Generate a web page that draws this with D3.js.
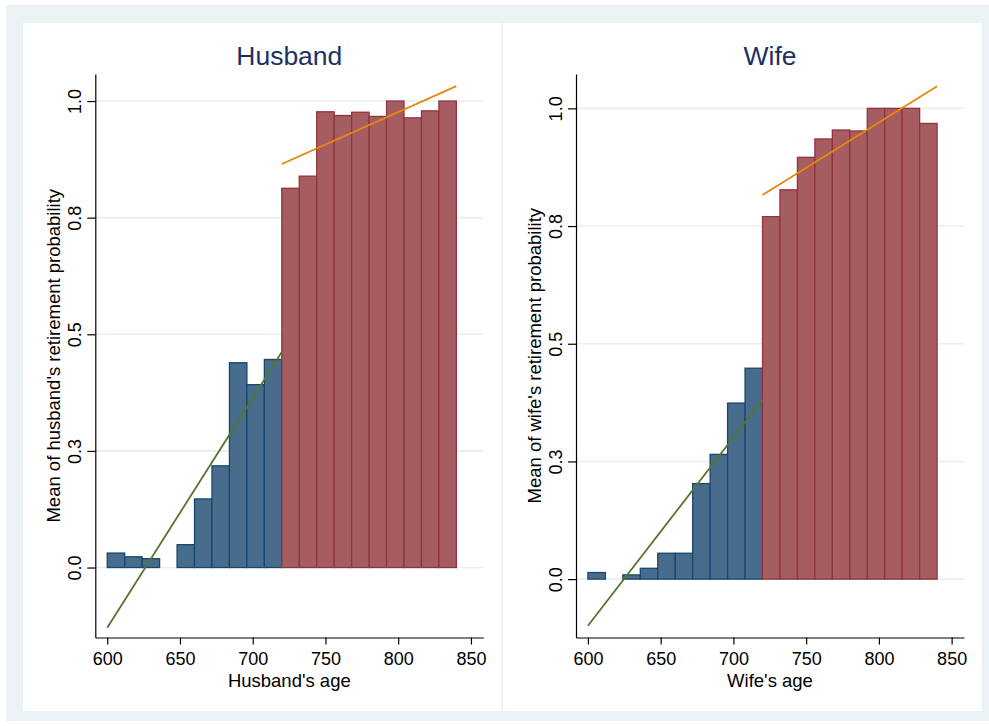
<!DOCTYPE html>
<html lang="en">
<head>
<meta charset="UTF-8"/>
<title>Retirement probability by age</title>
<script src="https://cdn.jsdelivr.net/npm/d3@7"></script>
<style>
body { margin: 0; background: #fff; }
svg { display: block; font-family: "Liberation Sans", Arial, sans-serif; }
text.title { font-size: 26.5px; fill: #1c3163; }
.tick text { font-size: 18px; fill: #000; }
text.axis-title { font-size: 18.5px; fill: #000; }
.grid line { stroke: #e6eef1; stroke-width: 1.6; }
.axis path, .axis line { stroke: #000; stroke-width: 1.2; }
</style>
</head>
<body>
<svg width="989" height="726"></svg>
<script>
// lower edge of each 12-unit age bin
const binStart = [600, 612, 624, 636, 648, 660, 672, 684, 696, 708,
                  720, 732, 744, 756, 768, 780, 792, 804, 816, 828];
const binWidth = 12;
const cutoff = 720;

const husbandMean = [0.031, 0.023, 0.019, null, 0.049, 0.147, 0.218, 0.439, 0.392, 0.446,
                     0.813, 0.839, 0.977, 0.969, 0.976, 0.967, 1.0, 0.964, 0.979, 1.0];
const wifeMean = [0.014, null, 0.009, 0.023, 0.055, 0.055, 0.203, 0.265, 0.374, 0.448,
                  0.770, 0.827, 0.896, 0.935, 0.954, 0.952, 1.0, 1.0, 1.0, 0.968];

// linear fits either side of the cutoff: [age, fitted]
const husbandFitBelow = [[600, -0.129], [720, 0.462]];
const husbandFitAbove = [[720, 0.865], [840, 1.032]];
const wifeFitBelow = [[600, -0.099], [720, 0.381]];
const wifeFitAbove = [[720, 0.816], [840, 1.047]];

const xTicks = [600, 650, 700, 750, 800, 850];
const yTicks = [0, 0.25, 0.5, 0.75, 1];

const svg = d3.select('svg');

// outer background and panel backgrounds
svg.append('rect').attr('x', 6).attr('y', 5).attr('width', 983).attr('height', 716).attr('fill', '#eaf2f3');

const panels = [
  { title: 'Husband', xTitle: "Husband's age", yTitle: "Mean of husband's retirement probability",
    values: husbandMean, below: husbandFitBelow, above: husbandFitAbove,
    bgX: 23, bgW: 478, left: 95.3, right: 483.3, yDomain: [-0.150, 1.058] },
  { title: 'Wife', xTitle: "Wife's age", yTitle: "Mean of wife's retirement probability",
    values: wifeMean, below: wifeFitBelow, above: wifeFitAbove,
    bgX: 503, bgW: 478.7, left: 576, right: 964, yDomain: [-0.124, 1.073] }
];

const plotTop = 74, plotBottom = 637.5;

panels.forEach(p => {
  svg.append('rect').attr('x', p.bgX).attr('y', 23).attr('width', p.bgW).attr('height', 688).attr('fill', '#fff');

  const x = d3.scaleLinear().domain([591.8, 858.5]).range([p.left, p.right]);
  const y = d3.scaleLinear().domain(p.yDomain).range([plotBottom, plotTop]);
  const g = svg.append('g');

  // horizontal grid
  g.append('g').attr('class', 'grid')
    .selectAll('line').data(yTicks).join('line')
    .attr('x1', p.left).attr('x2', p.right)
    .attr('y1', d => y(d)).attr('y2', d => y(d));

  const bars = binStart.map((s, i) => ({ start: s, value: p.values[i] })).filter(d => d.value !== null);

  g.append('g').selectAll('rect').data(bars).join('rect')
    .attr('x', d => x(d.start))
    .attr('width', d => x(d.start + binWidth) - x(d.start))
    .attr('y', d => y(d.value))
    .attr('height', d => y(0) - y(d.value))
    .attr('fill', d => d.start < cutoff ? '#486c8c' : '#a65d62')
    .attr('stroke', d => d.start < cutoff ? '#1a476f' : '#90353b')
    .attr('stroke-width', 1.3);

  const line = d3.line().x(d => x(d[0])).y(d => y(d[1]));
  g.append('path').attr('d', line(p.below)).attr('fill', 'none').attr('stroke', '#55752f').attr('stroke-width', 1.8);
  g.append('path').attr('d', line(p.above)).attr('fill', 'none').attr('stroke', '#e8870c').attr('stroke-width', 1.8);

  // axes
  const xAxis = g.append('g').attr('class', 'axis')
    .attr('transform', `translate(0, ${plotBottom})`)
    .call(d3.axisBottom(x).tickValues(xTicks).tickSize(7).tickSizeOuter(0));
  xAxis.selectAll('.tick text').attr('y', 27.8).attr('dy', 0);

  const yAxis = g.append('g').attr('class', 'axis')
    .attr('transform', `translate(${p.left}, 0)`)
    .call(d3.axisLeft(y).tickValues(yTicks).tickSize(8).tickSizeOuter(0).tickFormat(d3.format('.1f')));
  yAxis.selectAll('.tick text')
    .attr('transform', 'rotate(-90)')
    .attr('x', 0).attr('y', -14).attr('dy', 0)
    .attr('text-anchor', 'middle');

  const cx = (p.left + p.right) / 2;
  g.append('text').attr('class', 'title')
    .attr('x', cx).attr('y', 65).attr('text-anchor', 'middle').text(p.title);

  g.append('text').attr('class', 'axis-title')
    .attr('x', cx).attr('y', 686.5).attr('text-anchor', 'middle').text(p.xTitle);

  g.append('text').attr('class', 'axis-title')
    .attr('transform', `translate(${p.left - 35}, ${(plotTop + plotBottom) / 2}) rotate(-90)`)
    .attr('text-anchor', 'middle').text(p.yTitle);
});
</script>
</body>
</html>
